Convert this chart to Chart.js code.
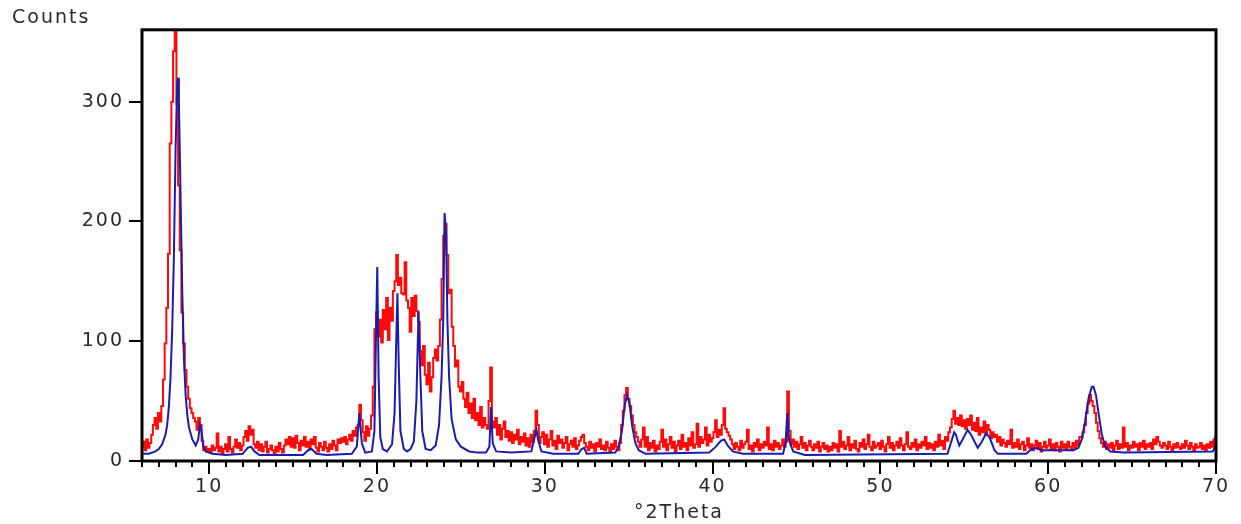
<!DOCTYPE html>
<html>
<head>
<meta charset="utf-8">
<script src="https://cdn.jsdelivr.net/npm/chart.js@4/dist/chart.umd.min.js"></script>
<style>
html,body{margin:0;padding:0;background:#fff;}
#wrap{width:1241px;height:524px;}
</style>
</head>
<body>
<div id="wrap"><canvas id="c" width="1241" height="524"></canvas></div>
<script>
// ---- axis setup ----
const xMin = 6, xMax = 70;
const yMin = 0, yMax = 360;
const yTickValues = [0, 100, 200, 300];
const xMajorTicks = [10, 20, 30, 40, 50, 60, 70];
const xTitle = '°2Theta';
const yTitle = 'Counts';

// ---- measured pattern (red), scan 6.0 .. 70.0 step 0.1 °2θ ----
const scanStart = 6.0, scanStep = 0.1;
const measuredCounts = [
12, 16, 9, 18, 11, 15, 22, 30, 36, 27,
40, 33, 46, 68, 98, 128, 173, 265, 300, 342,
360, 298, 230, 176, 124, 98, 76, 62, 52, 44,
40, 36, 33, 26, 36, 30, 17, 9, 12, 8,
10, 7, 13, 9, 11, 23, 8, 12, 6, 10,
14, 8, 20, 10, 7, 12, 18, 11, 15, 9,
13, 20, 25, 17, 29, 22, 26, 14, 11, 16,
9, 14, 8, 12, 16, 7, 10, 13, 9, 6,
12, 8, 15, 10, 7, 13, 18, 14, 20, 12,
19, 11, 21, 15, 9, 17, 13, 20, 12, 16,
10, 18, 14, 20, 11, 8, 15, 12, 9, 16,
11, 8, 14, 10, 17, 13, 9, 18, 15, 19,
16, 20, 14, 18, 22, 17, 25, 21, 28, 30,
47, 34, 24, 17, 29, 21, 27, 38, 62, 110,
124, 104, 118, 99, 126, 110, 136, 101, 128, 117,
142, 150, 172, 147, 153, 140, 139, 166, 134, 128,
108, 136, 121, 138, 125, 116, 92, 80, 96, 72,
64, 82, 58, 70, 86, 93, 84, 96, 118, 152,
188, 198, 172, 140, 143, 112, 96, 79, 84, 62,
58, 66, 52, 45, 57, 40, 48, 36, 52, 34,
40, 30, 45, 28, 36, 30, 27, 50, 78, 33,
28, 36, 22, 30, 18, 27, 33, 20, 25, 17,
24, 15, 22, 18, 26, 14, 20, 16, 23, 13,
19, 12, 22, 16, 25, 42, 30, 15, 20, 24,
14, 22, 12, 18, 25, 13, 17, 10, 21, 15,
18, 11, 15, 20, 9, 14, 17, 12, 19, 10,
13, 17, 20, 22, 15, 12, 9, 16, 11, 14,
8, 15, 12, 18, 10, 13, 9, 16, 11, 7,
14, 10, 17, 12, 9, 15, 30, 42, 55, 61,
52, 46, 38, 30, 24, 20, 16, 12, 18, 28,
12, 20, 9, 15, 11, 17, 8, 13, 10, 16,
26, 12, 18, 9, 14, 20, 11, 16, 8, 13,
17, 10, 22, 12, 15, 9, 19, 13, 24, 11,
14, 31, 12, 20, 15, 18, 28, 13, 22, 16,
19, 24, 34, 20, 26, 22, 30, 44, 27, 24,
21, 18, 14, 10, 15, 12, 9, 17, 11, 14,
16, 26, 10, 13, 8, 15, 12, 18, 9, 14,
11, 16, 13, 28, 10, 14, 9, 17, 12, 15,
10, 13, 18, 12, 16, 58, 25, 14, 18, 12,
16, 10, 14, 20, 11, 15, 9, 13, 17, 12,
9, 14, 11, 16, 8, 12, 15, 10, 13, 8,
12, 9, 15, 11, 14, 8, 25, 12, 16, 10,
13, 20, 9, 14, 11, 17, 10, 8, 15, 12,
18, 10, 14, 22, 12, 9, 16, 11, 13, 15,
10, 17, 12, 8, 14, 20, 11, 15, 9, 13,
16, 11, 19, 13, 9, 14, 24, 12, 10, 15,
12, 18, 9, 14, 11, 16, 13, 20, 10, 15,
11, 14, 9, 16, 12, 22, 13, 17, 10, 20,
17, 24, 28, 35, 42, 31, 36, 30, 38, 29,
34, 27, 35, 30, 38, 26, 32, 25, 36, 22,
28, 24, 33, 22, 30, 26, 19, 24, 20, 22,
16, 20, 13, 18, 15, 12, 17, 14, 26, 11,
15, 12, 18, 10, 14, 16, 9, 13, 19, 11,
14, 9, 13, 17, 10, 15, 8, 12, 16, 11,
13, 18, 10, 14, 9, 15, 12, 8, 16, 11,
14, 10, 16, 12, 9, 15, 11, 17, 13, 20,
20, 24, 30, 40, 48, 55, 50, 46, 40, 32,
25, 19, 15, 12, 16, 10, 14, 11, 15, 9,
13, 17, 10, 14, 11, 28, 12, 15, 9, 13,
11, 16, 12, 14, 9, 15, 12, 17, 10, 14,
12, 15, 10, 18, 14, 20, 16, 13, 11, 15,
13, 10, 16, 12, 9, 14, 11, 15, 12, 10,
14, 11, 17, 13, 10, 15, 12, 9, 14, 11,
12, 15, 10, 13, 9, 14, 11, 16, 12, 18,
20
];

// ---- calculated pattern (blue) ----
const calcTheta = [
6.0, 6.4, 6.8, 7.0, 7.2, 7.4, 7.5, 7.6, 7.7, 7.8, 7.9, 8.0, 8.1, 8.15, 8.2, 8.3, 8.4, 8.5, 8.6, 8.7, 8.8, 9.0, 9.2,
9.35, 9.45, 9.55, 9.65, 9.8, 10.2, 11.0, 12.0, 12.3, 12.5, 12.7, 13.0, 15.6, 15.9, 16.1, 16.4, 17.0, 18.5, 18.8,
18.95, 19.1, 19.3, 19.7, 19.85, 19.95, 20.02, 20.1, 20.2, 20.35, 20.6, 20.9, 21.05, 21.15, 21.22, 21.3, 21.4,
21.6, 21.8, 22.0, 22.2, 22.35, 22.48, 22.58, 22.7, 22.9, 23.2, 23.5, 23.7, 23.85, 23.95, 24.03, 24.12, 24.2,
24.3, 24.45, 24.7, 25.0, 25.5, 26.0, 26.5, 26.7, 26.8, 26.9, 27.1, 28.0, 29.2, 29.4, 29.5, 29.6, 29.8, 30.5,
32.0, 32.2, 32.35, 32.5, 34.2, 34.4, 34.6, 34.75, 34.9, 35.05, 35.2, 35.4, 35.6, 36.0, 39.8, 40.2, 40.5, 40.7,
40.9, 41.2, 41.8, 44.2, 44.35, 44.45, 44.55, 44.8, 45.5, 54.0, 54.2, 54.4, 54.5, 54.7, 54.9, 55.2, 55.4, 55.8,
56.0, 56.3, 56.5, 56.8, 57.0, 58.7, 59.0, 59.3, 59.6, 61.5, 61.8, 62.0, 62.2, 62.4, 62.6, 62.7, 62.85, 63.0,
63.2, 63.4, 63.7, 64.5, 69.8, 69.95, 70.0
];
const calcCounts = [
6, 6, 8, 10, 14, 22, 30, 45, 70, 110, 170, 260, 315, 320, 300, 220, 140, 85, 55, 38, 28, 18, 13,
18, 30, 25, 12, 8, 6, 5, 6, 11, 12, 8, 5, 5, 9, 10, 6, 5, 6, 12,
40, 15, 7, 8, 25, 110, 162, 70, 20, 10, 8, 14, 40, 100, 140, 80, 25,
10, 8, 10, 16, 50, 125, 75, 25, 10, 9, 13, 30, 70, 117, 207, 190, 117,
70, 35, 18, 12, 8, 7, 7, 12, 45, 15, 8, 7, 8, 20, 26, 18, 8, 6,
6, 10, 11, 6, 7, 12, 25, 45, 55, 48, 30, 15, 9, 6, 7, 12, 17, 18,
13, 8, 6, 6, 15, 40, 18, 8, 5, 6, 15, 24, 22, 13, 18, 26, 22, 11,
15, 23, 20, 9, 6, 6, 10, 11, 9, 9, 11, 18, 33, 52, 62, 62, 55, 40,
22, 12, 8, 7, 8, 12, 23
];

const measuredPts = measuredCounts.map((v, i) => ({ x: +(scanStart + i * scanStep).toFixed(2), y: v }));
const calcPts = calcTheta.map((t, i) => ({ x: t, y: calcCounts[i] }));

const FONT = { family: 'DejaVu Sans', size: 19 };
const TXT = '#2a2a2a';

const spacingPlugin = {
  id: 'spacing',
  beforeLayout(c) { c.ctx.letterSpacing = '2px'; },
  beforeDraw(c) { c.ctx.letterSpacing = '2px'; }
};
const framePlugin = {
  id: 'frame',
  afterDraw(c) {
    const a = c.chartArea, ctx = c.ctx;
    ctx.save();
    ctx.strokeStyle = '#000';
    ctx.lineWidth = 3;
    ctx.strokeRect(a.left, a.top, a.right - a.left, a.bottom - a.top);
    ctx.restore();
  }
};

new Chart(document.getElementById('c'), {
  type: 'line',
  data: {
    datasets: [
      { label: 'calc', data: calcPts, borderColor: '#1c1caa', borderWidth: 2, pointRadius: 0, tension: 0, fill: false, order: 0, xAxisID: 'x', yAxisID: 'y' },
      { label: 'obs', data: measuredPts, borderColor: '#ff0a0a', borderWidth: 2, pointRadius: 0, stepped: 'middle', fill: false, order: 1, xAxisID: 'x', yAxisID: 'y' }
    ]
  },
  options: {
    responsive: false,
    animation: false,
    devicePixelRatio: 1,
    layout: { padding: { left: 12, right: 25, top: 0, bottom: 0 } },
    plugins: {
      legend: { display: false },
      tooltip: { enabled: false },
      title: {
        display: true, text: yTitle, align: 'start', color: TXT,
        font: { family: 'DejaVu Sans', size: 19, weight: 'normal', lineHeight: 1.2 },
        padding: { top: 7, bottom: 0 }
      }
    },
    scales: {
      xMinor: {
        type: 'linear', position: 'bottom', min: xMin, max: xMax, weight: 0,
        afterBuildTicks(s) { const t = []; for (let v = xMin; v <= xMax; v++) t.push({ value: v }); s.ticks = t; },
        ticks: { display: false },
        grid: { display: true, drawOnChartArea: false, drawTicks: true, tickLength: 6, color: '#000', lineWidth: 2 },
        border: { display: false },
        afterFit(s) { s.height = 0; s.paddingLeft = 0; s.paddingRight = 0; }
      },
      x: {
        type: 'linear', position: 'bottom', min: xMin, max: xMax, weight: 1,
        afterBuildTicks(s) { s.ticks = xMajorTicks.map(v => ({ value: v })); },
        ticks: { color: TXT, font: FONT, padding: 2, maxRotation: 0, autoSkip: false },
        grid: { display: true, drawOnChartArea: false, drawTicks: true, tickLength: 13, color: '#000', lineWidth: 2 },
        border: { display: false },
        title: { display: true, text: xTitle, color: TXT, font: FONT, padding: 0 },
        afterFit(s) { s.height = 63; s.paddingLeft = 0; s.paddingRight = 0; }
      },
      y: {
        type: 'linear', position: 'left', min: yMin, max: yMax,
        afterBuildTicks(s) { s.ticks = yTickValues.map(v => ({ value: v })); },
        ticks: { color: TXT, font: FONT, padding: 5 },
        grid: { display: true, drawOnChartArea: false, drawTicks: true, tickLength: 13, color: '#000', lineWidth: 2 },
        border: { display: false },
        afterFit(s) { s.width = 142 - 12; s.paddingTop = 0; s.paddingBottom = 0; }
      }
    }
  },
  plugins: [spacingPlugin, framePlugin]
});
</script>
</body>
</html>
